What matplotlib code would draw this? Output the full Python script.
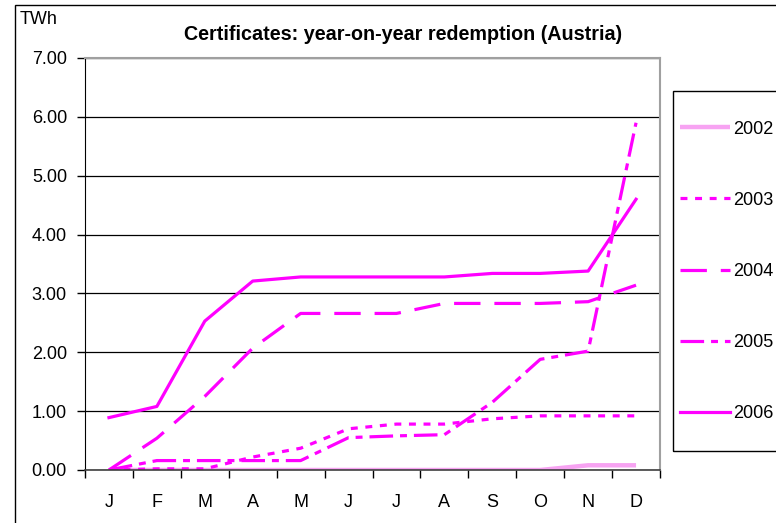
import matplotlib
matplotlib.use("Agg")
import matplotlib.pyplot as plt
from matplotlib.patches import Rectangle

plt.rcParams['font.family'] = ['Liberation Sans', 'DejaVu Sans']
plt.rcParams['lines.scale_dashes'] = False

# data (TWh, cumulative by month)
months = ["J", "F", "M", "A", "M", "J", "J", "A", "S", "O", "N", "D"]
y2002 = [0, 0, 0, 0, 0, 0, 0, 0, 0, 0, 0.08, 0.08]
y2003 = [0, 0.02, 0.02, 0.22, 0.37, 0.70, 0.78, 0.78, 0.87, 0.92, 0.92, 0.92]
y2004 = [0, 0.54, 1.25, 2.07, 2.66, 2.66, 2.66, 2.83, 2.83, 2.83, 2.86, 3.14]
y2005 = [0, 0.16, 0.16, 0.16, 0.16, 0.55, 0.58, 0.60, 1.15, 1.88, 2.02, 5.90]
y2006 = [0.89, 1.08, 2.53, 3.21, 3.28, 3.28, 3.28, 3.28, 3.34, 3.34, 3.38, 4.60]

magenta = "#ff00ff"

fig = plt.figure(figsize=(7.76, 5.23), dpi=100)
ax = fig.add_axes([85/776, 1-470/523, (660-85)/776, (470-58)/523])

x = list(range(len(months)))
ax.plot(x, y2002, color="#f7a3f2", lw=3.2, label="2002", solid_capstyle="butt")
ax.plot(x, y2003, color=magenta, lw=2.3, dashes=(5, 5.5), label="2003")
ax.plot(x, y2004, color=magenta, lw=2.3, dashes=(19, 10), label="2004")
ax.plot(x, y2005, color=magenta, lw=2.3, dashes=(17, 5, 5, 5), label="2005")
ax.plot(x, y2006, color=magenta, lw=2.3, label="2006")

ax.set_xlim(-0.5, 11.5)
ax.set_ylim(0, 7)
ax.set_yticks([i for i in range(8)])
ax.set_yticklabels([f"{i:.2f}" for i in range(8)], fontsize=13)
ax.set_xticks(x)
ax.set_xticklabels(months, fontsize=13)
ax.set_xticks([i - 0.5 for i in range(13)], minor=True)
ax.tick_params(axis="x", which="major", length=0, pad=17)
ax.tick_params(axis="x", which="minor", length=6, direction="out", width=1)
ax.tick_params(axis="y", length=6, direction="out", width=1, pad=7)
ax.yaxis.grid(True, color="black", lw=0.9)
ax.set_axisbelow(True)
for s in ["top", "right"]:
    ax.spines[s].set_color("#a0a0a0")
    ax.spines[s].set_linewidth(1.5)
ax.spines["left"].set_color("black")
ax.spines["bottom"].set_color("#404040")
ax.spines["bottom"].set_linewidth(1.2)

fig.text(403/776, 1-35/523, "Certificates: year-on-year redemption (Austria)",
         ha="center", va="center", fontsize=14.2, fontweight="bold")
fig.text(20/776, 1-20/523, "TWh", ha="left", va="center", fontsize=13)

# legend without its own frame; the box is drawn separately
leg = ax.legend(loc="upper left", bbox_to_anchor=(676/776, 1-117/523),
                bbox_transform=fig.transFigure, borderaxespad=0,
                frameon=False, fontsize=13,
                handlelength=2.8, labelspacing=3.0, borderpad=0.2,
                handletextpad=0.15)

fig.patches.append(Rectangle((673/776, 1-451/523), 0.5, (451-91)/523,
                             fill=False, edgecolor="black", lw=1.0,
                             transform=fig.transFigure))
fig.patches.append(Rectangle((15/776, -0.1), 1.2, 1.1 - 5/523, fill=False,
                             edgecolor="black", lw=1.0,
                             transform=fig.transFigure))

fig.savefig("out.png", dpi=100)
